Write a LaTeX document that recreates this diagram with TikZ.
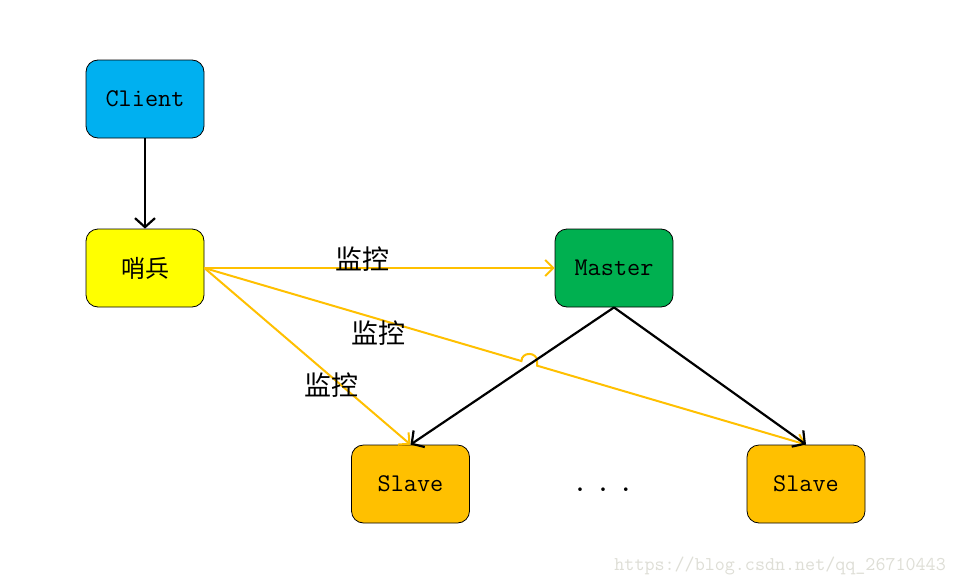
\documentclass[tikz,border=0pt]{standalone}
\usepackage{fontspec}
\newfontfamily\cjk{Noto Sans CJK SC}
\usetikzlibrary{arrows.meta,calc}
\definecolor{cblue}{HTML}{00B0F0}
\definecolor{cyellow}{HTML}{FFFF00}
\definecolor{cgreen}{HTML}{00B050}
\definecolor{corange}{HTML}{FFC000}
\definecolor{wmark}{HTML}{DEDED6}
\begin{document}
\begin{tikzpicture}[x=1pt,y=-1pt,
  box/.style={draw=black,line width=0.8pt,rounded corners=12pt,minimum width=118pt,minimum height=78pt,inner sep=0pt,font=\ttfamily\fontsize{25.5}{25.5}\selectfont},
  blackarr/.style={draw=black,line width=2.2pt,-{Straight Barb[length=9pt,width=20pt,line width=2.2pt]}},
  yelarr/.style={draw=corange,line width=2pt,-{Straight Barb[length=8pt,width=16pt,line width=2pt]}},
  lbl/.style={font=\cjk\fontsize{27}{27}\selectfont,inner sep=0pt}]
\useasboundingbox (0,0) rectangle (957,586);
\fill[white] (0,0) rectangle (957,586);
\node[box,fill=cblue] (client) at (145,99) {Client};
\node[box,fill=cyellow,font=\cjk\fontsize{24}{24}\selectfont] (sb) at (145,268) {哨兵};
\node[box,fill=cgreen] (master) at (614,268) {Master};
\node[box,fill=corange] (s1) at (410.5,484) {Slave};
\node[box,fill=corange] (s2) at (806,484) {Slave};
\node[font=\ttfamily\fontsize{32}{32}\selectfont,inner sep=0pt] (dots) at (603,490) {.\hspace{6.5pt}.\hspace{6.5pt}.};
% yellow monitoring connectors
\draw[yelarr] (sb.east) -- (master.west);
\draw[yelarr] (sb.east) -- (s1.north);
\coordinate (h1) at ($(sb.east)!0.527!(s2.north)$);
\coordinate (h2) at ($(sb.east)!0.553!(s2.north)$);
\draw[yelarr] (sb.east) -- (h1) .. controls ($(h1)+(0,-9.5)$) and ($(h2|-h1)+(0,-9.5)$) .. (h2|-h1) -- (h2) -- (s2.north);
% black connectors
\draw[blackarr] (client.south) -- (sb.north);
\draw[blackarr] (master.south) -- (s1.north);
\draw[blackarr] (master.south) -- (s2.north);
% labels
\node[lbl] (l1) at (362,259) {监控};
\node[lbl] (l2) at (378,333) {监控};
\node[lbl] (l3) at (331,385) {监控};
\node[font=\ttfamily\fontsize{19.5}{19.5}\selectfont,text=wmark,inner sep=0pt,anchor=east] (wm) at (946,566) {https://blog.csdn.net/qq\_26710443};
\end{tikzpicture}
\end{document}
